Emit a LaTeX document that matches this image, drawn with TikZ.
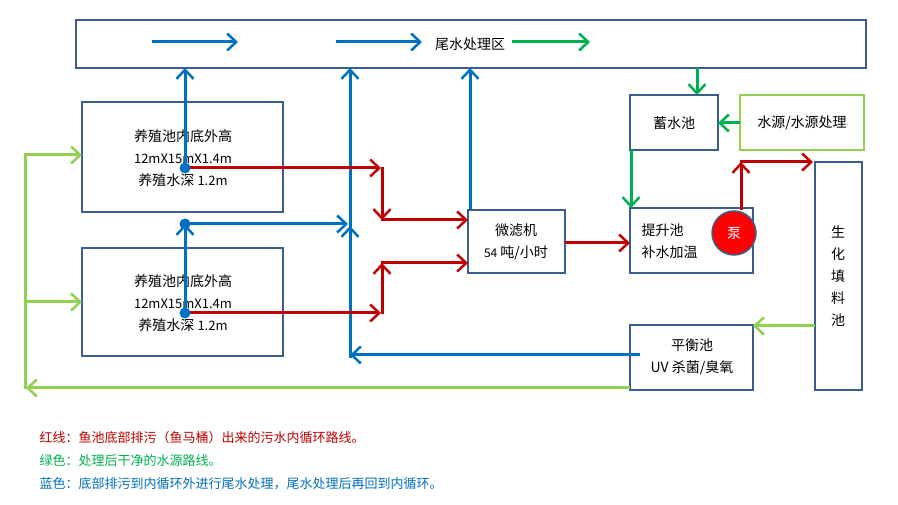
\documentclass[tikz,border=0pt]{standalone}
\usepackage{fontspec}
\setmainfont{Noto Sans CJK SC}
\usetikzlibrary{arrows.meta}
\definecolor{bx}{HTML}{3A5F8F}
\definecolor{rd}{HTML}{C00000}
\definecolor{gn}{HTML}{00B050}
\definecolor{lg}{HTML}{92D050}
\definecolor{bl}{HTML}{0070C0}
\begin{document}
\begin{tikzpicture}[x=1pt,y=-1pt,font=\fontsize{14}{22}\selectfont,
 box/.style={draw=bx,line width=2pt,fill=white},
 ar/.style={line width=3pt,-{Straight Barb[length=9pt,width=17pt,line width=2.5pt]}},
 ln/.style={line width=3pt}]
\useasboundingbox (0,0) rectangle (898,505);
\fill[white] (0,0) rectangle (898,505);
% boxes
\draw[box] (76,20) rectangle (866,68);
\node (top) at (470,44) {尾水处理区};
\draw[box] (82,102) rectangle (283,212);
\draw[box] (82,248) rectangle (283,356);
\node[align=center] (p1) at (183,158) {养殖池内底外高\\{\fontsize{13}{22}\selectfont 12mX15mX1.4m}\\养殖水深 {\fontsize{13}{22}\selectfont 1.2m}};
\node[align=center] (p2) at (183,303) {养殖池内底外高\\{\fontsize{13}{22}\selectfont 12mX15mX1.4m}\\养殖水深 {\fontsize{13}{22}\selectfont 1.2m}};
\draw[box] (468,210) rectangle (565,273);
\node[align=center] (mf) at (516,242) {微滤机\\{\fontsize{12}{22}\selectfont 54} 吨/小时};
\draw[box] (630,95) rectangle (718,150);
\node (xs) at (674,123) {蓄水池};
\draw[draw=lg,line width=2pt] (740,95) rectangle (864,150);
\node (sy) at (802,123) {水源/水源处理};
\draw[box] (630,208) rectangle (753,273);
\node[align=left,anchor=west] (ts) at (638,241) {提升池\\补水加温};
\draw[box] (815,162) rectangle (862,390);
\node[align=center] (sh) at (838,276) {生\\化\\填\\料\\池};
\draw[box] (630,325) rectangle (753,390);
\node[align=center] (ph) at (692,357) {平衡池\\UV 杀菌/臭氧};
\node[circle,draw=bx,line width=1.5pt,fill=red,minimum width=40pt,minimum height=44pt,inner sep=0pt,text=white] (pump) at (734,233) {泵};
% blue
\draw[bl,ar] (152,42) -- (238,42);
\draw[bl,ar] (336,42) -- (422,42);
\draw[gn,ar] (512,42) -- (590,42);
\coordinate (d1) at (185,168);
\coordinate (d2) at (185,313);
\coordinate (d3) at (185,224);
\draw[bl,ar] (d1) -- (185,68);
\draw[bl,ar] (d2) -- (d3);
\draw[bl,ar] (d3) -- (348,224);
\draw[bl,ar] (350,358) -- (350,68);
\draw[bl,ar] (350,236) -- (350,226);
\draw[bl,ar] (470,210) -- (470,68);
\draw[bl,ar] (640,355) -- (350,355);
% red
\draw[rd,ar] (d1) -- (381,168);
\draw[rd,ar] (382,167) -- (382,220);
\draw[rd,ar] (381,220) -- (468,220);
\draw[rd,ar] (d2) -- (381,313);
\draw[rd,ar] (382,314) -- (382,263);
\draw[rd,ar] (381,263) -- (468,263);
\draw[rd,ar] (565,243) -- (630,243);
\draw[rd,ar] (741,210) -- (741,162);
\draw[rd,ar] (740,162) -- (813,162);
\fill[bl] (d1) circle (5.5);
\fill[bl] (d3) circle (5.5);
\fill[bl] (d2) circle (5.5);
% green
\draw[gn,ar] (697,68) -- (697,95);
\draw[gn,ar] (740,123) -- (718,123);
\draw[gn,ar] (631,150) -- (631,208);
\draw[lg,ar] (815,326) -- (753,326);
\draw[lg,ar] (630,388) -- (26,388);
\draw[lg,ln] (25,389) -- (25,155);
\draw[lg,ar] (24,155) -- (82,155);
\draw[lg,ar] (25,302) -- (82,302);
% legend
\begin{scope}[font=\fontsize{13}{16}\selectfont]
\node[anchor=west,text=rd] (l1) at (36,438) {红线：鱼池底部排污（鱼马桶）出来的污水内循环路线。};
\node[anchor=west,text=gn] (l2) at (36,461) {绿色：处理后干净的水源路线。};
\node[anchor=west,text=bl] (l3) at (36,484) {蓝色：底部排污到内循环外进行尾水处理，尾水处理后再回到内循环。};
\end{scope}
\end{tikzpicture}
\end{document}
